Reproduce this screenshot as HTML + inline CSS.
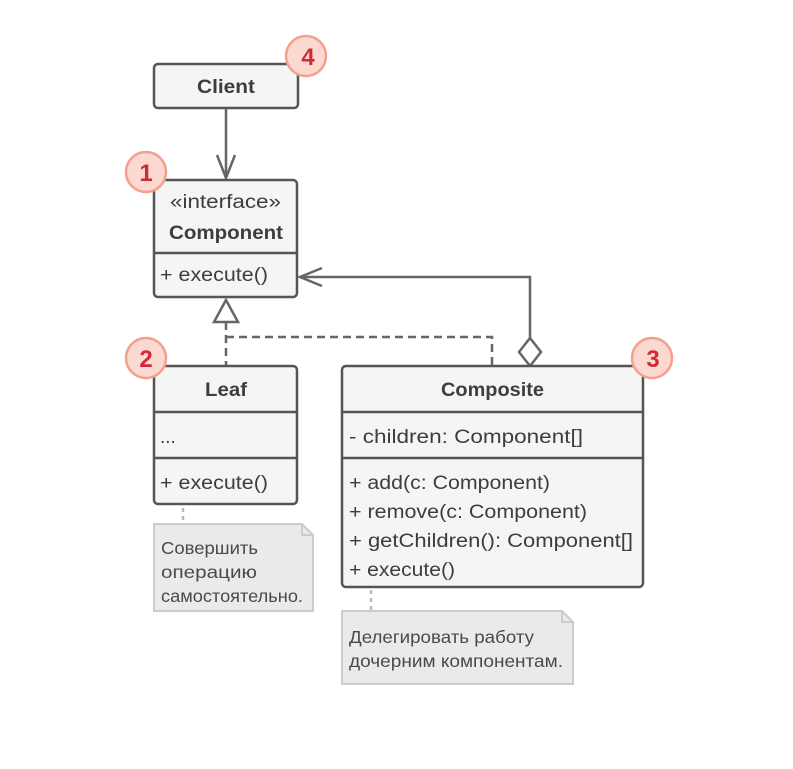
<!DOCTYPE html>
<html><head><meta charset="utf-8"><style>
html,body{margin:0;padding:0;background:#fff;}
svg{display:block;}
text{font-family:"Liberation Sans","DejaVu Sans",sans-serif;fill:#3d3d3d;font-size:19px;}
.b{font-weight:bold;}
.n{font-size:17.5px;fill:#4a4a4a;}
.badge{font-weight:bold;font-size:24px;fill:#d02a3a;}
</style></head><body>
<svg width="793" height="769" viewBox="0 0 793 769" xmlns="http://www.w3.org/2000/svg">
<g stroke="#666" stroke-width="2.5" fill="none">
  <line x1="226" y1="108" x2="226" y2="178"/>
  <polyline points="217,155 226,178 235,155"/>
  <polyline points="530,338 530,277 300,277"/>
  <polyline points="322,268 300,277 322,286"/>
  <polygon points="530,338 541,352 530,366 519,352" fill="#fff"/>
  <g stroke-dasharray="8,5">
    <line x1="226" y1="322" x2="226" y2="366"/>
    <polyline points="226,337 492,337 492,366"/>
  </g>
  <polygon points="226,300 214,322 238,322" fill="#fff"/>
</g>
<g stroke="#bbb" stroke-width="2.5" stroke-dasharray="4,4">
  <line x1="183" y1="508" x2="183" y2="524"/>
  <line x1="371" y1="590" x2="371" y2="611"/>
</g>
<g stroke="#555" stroke-width="2.5" fill="#f5f5f5">
  <rect x="154" y="64" width="144" height="44" rx="4"/>
  <rect x="154" y="180" width="143" height="117" rx="4"/>
  <rect x="154" y="366" width="143" height="138" rx="4"/>
  <rect x="342" y="366" width="301" height="221" rx="4"/>
</g>
<g stroke="#555" stroke-width="2.5">
  <line x1="154" y1="253" x2="297" y2="253"/>
  <line x1="154" y1="412" x2="297" y2="412"/>
  <line x1="154" y1="458" x2="297" y2="458"/>
  <line x1="342" y1="412" x2="643" y2="412"/>
  <line x1="342" y1="458" x2="643" y2="458"/>
</g>
<g fill="#eaeaea" stroke="#ccc" stroke-width="2">
  <polygon points="154,524 302,524 313,535 313,611 154,611"/>
  <polygon points="342,611 562,611 573,622 573,684 342,684"/>
</g>
<g fill="none" stroke="#ccc" stroke-width="2">
  <polyline points="302,524 302,535 313,535"/>
  <polyline points="562,611 562,622 573,622"/>
</g>
<text x="197" y="93" class="b" textLength="58" lengthAdjust="spacingAndGlyphs">Client</text>
<text x="170" y="208" textLength="111" lengthAdjust="spacingAndGlyphs">«interface»</text>
<text x="169" y="239" class="b" textLength="114" lengthAdjust="spacingAndGlyphs">Component</text>
<text x="160" y="281" textLength="108" lengthAdjust="spacingAndGlyphs">+ execute()</text>
<text x="205" y="396" class="b" textLength="42" lengthAdjust="spacingAndGlyphs">Leaf</text>
<text x="160" y="443">...</text>
<text x="160" y="489" textLength="108" lengthAdjust="spacingAndGlyphs">+ execute()</text>
<text x="441" y="396" class="b" textLength="103" lengthAdjust="spacingAndGlyphs">Composite</text>
<text x="349" y="443" textLength="234" lengthAdjust="spacingAndGlyphs">- children: Component[]</text>
<text x="349" y="489" textLength="201" lengthAdjust="spacingAndGlyphs">+ add(c: Component)</text>
<text x="349" y="518" textLength="238" lengthAdjust="spacingAndGlyphs">+ remove(c: Component)</text>
<text x="349" y="547" textLength="284" lengthAdjust="spacingAndGlyphs">+ getChildren(): Component[]</text>
<text x="349" y="576" textLength="106" lengthAdjust="spacingAndGlyphs">+ execute()</text>
<text x="161" y="554" class="n" textLength="97" lengthAdjust="spacingAndGlyphs">Совершить</text>
<text x="161" y="578" class="n" textLength="96" lengthAdjust="spacingAndGlyphs">операцию</text>
<text x="161" y="602" class="n" textLength="142" lengthAdjust="spacingAndGlyphs">самостоятельно.</text>
<text x="349" y="643" class="n" textLength="185" lengthAdjust="spacingAndGlyphs">Делегировать работу</text>
<text x="349" y="667" class="n" textLength="214" lengthAdjust="spacingAndGlyphs">дочерним компонентам.</text>
<g fill="#fbd9d0" stroke="#f5a08e" stroke-width="2.5">
  <circle cx="306" cy="56" r="20"/>
  <circle cx="146" cy="172" r="20"/>
  <circle cx="146" cy="358" r="20"/>
  <circle cx="652" cy="358" r="20"/>
</g>
<text x="308" y="65" text-anchor="middle" class="badge">4</text>
<text x="146" y="181" text-anchor="middle" class="badge">1</text>
<text x="146" y="367" text-anchor="middle" class="badge">2</text>
<text x="653" y="367" text-anchor="middle" class="badge">3</text>
</svg>
</body></html>
